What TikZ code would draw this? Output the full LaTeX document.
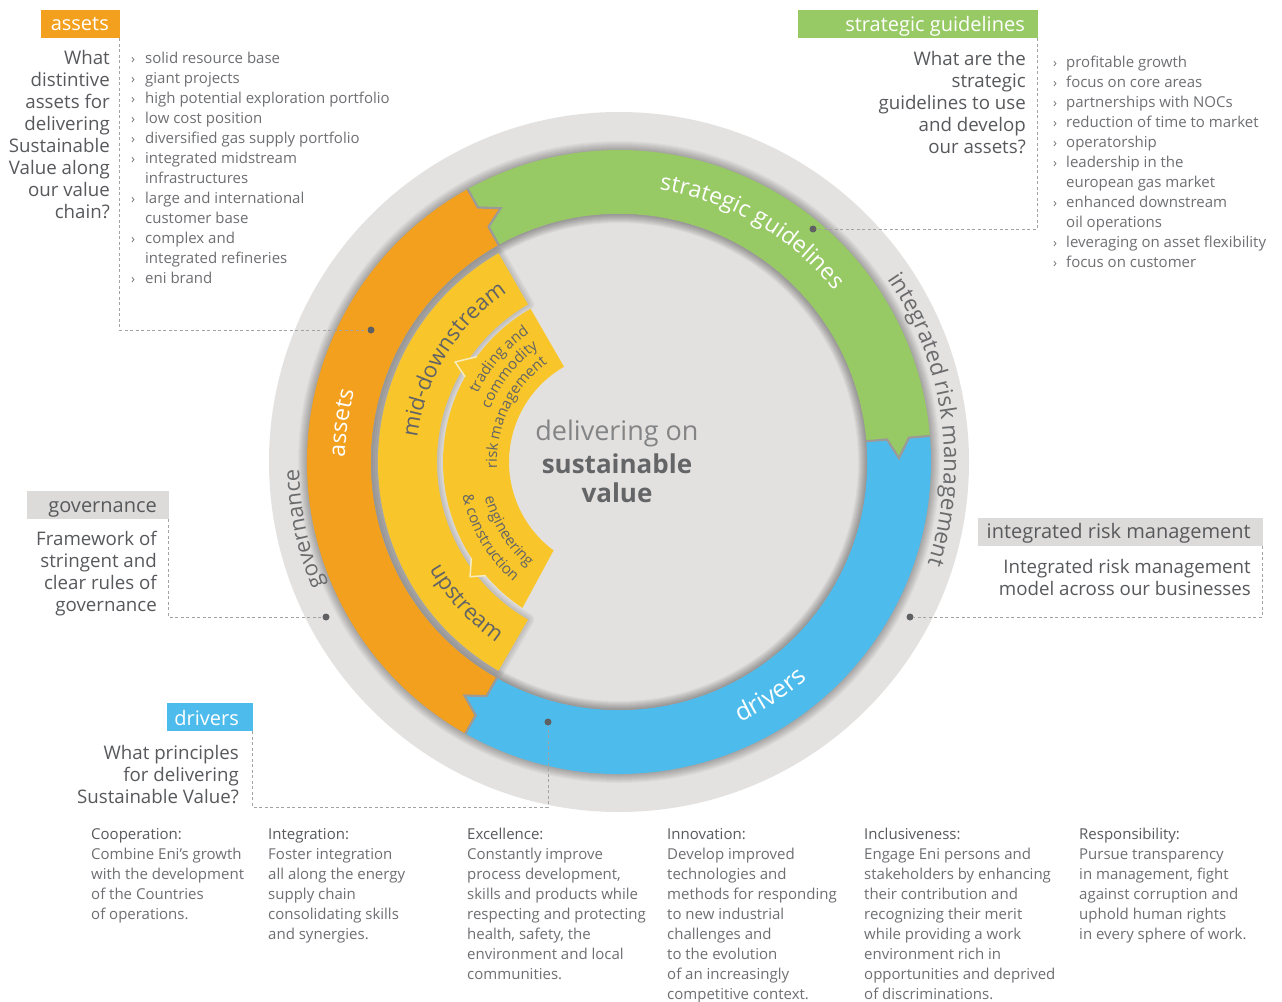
\documentclass[tikz,border=0pt]{standalone}
\usepackage{fontspec}
\setmainfont{Open Sans}
\usetikzlibrary{decorations.text}
\definecolor{cGrey}{HTML}{E4E2E1}
\definecolor{cDisk}{HTML}{E3E1E0}
\definecolor{cOrange}{HTML}{F2A01D}
\definecolor{cGreen}{HTML}{97C965}
\definecolor{cBlue}{HTML}{4DBCEC}
\definecolor{cYellow}{HTML}{F8C62B}
\definecolor{cDark}{HTML}{58595C}
\definecolor{cBody}{HTML}{6E6F72}
\definecolor{cDash}{HTML}{A3A3A3}
\definecolor{cDot}{HTML}{5F6062}
\definecolor{cBoxGrey}{HTML}{DCDBDA}
\definecolor{cSeg}{HTML}{9C9A99}
\definecolor{cPale}{HTML}{F6ECC0}
\definecolor{cRingText}{HTML}{6A6B6D}
\definecolor{cYText}{HTML}{626366}
\definecolor{cCLight}{HTML}{838486}
\definecolor{cCBold}{HTML}{646567}
\tikzset{
 qtext/.style={font=\fontsize{18.7}{22}\selectfont, text=cDark, anchor=base east, inner sep=0},
 btext/.style={font=\fontsize{15}{20}\selectfont, text=cBody, anchor=base west, inner sep=0},
 ttext/.style={font=\fontsize{15}{20}\selectfont, text=cDark, anchor=base west, inner sep=0},
 bul/.style={font=\fontsize{13}{20}\selectfont, text=cBody, anchor=base, inner sep=0},
 lbox/.style={rectangle, minimum height=28, inner sep=0, anchor=north west},
 ltitle/.style={font=\fontsize{20}{22}\selectfont, anchor=base east, inner sep=0},
 dashline/.style={draw=cDash, line width=1, dash pattern=on 3 off 2.5},
 ldot/.style={circle, fill=cDot, minimum size=7, inner sep=0},
 segline/.style={draw=cSeg, line width=2.2, line join=miter},
 seg/.style 2 args={insert path={(#1:248) -- (#1:269) -- ({#1-4}:280) -- (#1:291) -- (#1:312)
   arc[start angle=#1, end angle=#2, radius=312] -- (#2:291) -- ({#2-4}:280) -- (#2:269) -- (#2:248)
   arc[start angle=#2, end angle=#1, radius=248] -- cycle}},
 bnd/.style={insert path={(#1:248) -- (#1:269) -- ({#1-4}:280) -- (#1:291) -- (#1:312)}},
 midband/.style={insert path={(120:182) -- (120:241) arc[start angle=120,end angle=240,radius=241]
   -- (240:182) arc[start angle=240,end angle=120,radius=182] -- cycle}},
 innerband/.style={insert path={(120:110) -- (120:177) arc[start angle=120,end angle=143.5,radius=177]
   -- (148.6:192) -- (151:176) arc[start angle=151,end angle=213,radius=176]
   -- (217.6:188) -- (220.5:175) arc[start angle=220.5,end angle=236.5,radius=175]
   -- (233.5:110) arc[start angle=233.5,end angle=120,radius=110] -- cycle}},
}
\begin{document}
\begin{tikzpicture}[x=1pt,y=1pt]
\useasboundingbox (0,0) rectangle (1282,-1001);
\fill[white] (0,0) rectangle (1282,-1001);

% ---------------- the wheel ----------------
\begin{scope}[shift={(619,-462)}]
 \fill[cGrey] (0,0) circle (350);
 \foreach \ii in {1,...,10} \fill[black,opacity=0.03] (0,0) circle ({311+\ii});
 \fill[cOrange, seg={119}{240.5}];
 \fill[cGreen, seg={4.8}{119}];
 \fill[cBlue, seg={-119.5}{4.8}];
 \foreach \bb in {119,4.8,-119.5} \draw[segline, bnd=\bb];
 \fill[cDisk] (0,0) circle (248);
 \foreach \ii in {1,...,9} \fill[black,opacity=0.038,even odd rule] (0,0) circle (248) circle ({248-\ii});
 % yellow bands
 \foreach \ww in {12,8,4} \draw[black,opacity=0.05,line width=\ww,line join=round,midband];
 \fill[cYellow, midband];
 \fill[cYellow, innerband];
 \draw[cPale, line width=1.5, line join=round] (143.5:177) -- (148.6:192) -- (151:176);
 \draw[cPale, line width=1.5, line join=round] (213:176) -- (217.6:188) -- (220.5:175);

 % ring texts
 \path[decorate, decoration={text along path, text align=center,
   text={|\fontsize{23}{23}\selectfont\color{white}|strategic guidelines}}]
   (100:275) arc[start angle=100, end angle=20, radius=275];
 \path[decorate, decoration={text along path, text align=center,
   text={|\fontsize{25}{25}\selectfont\color{white}|drivers}}]
   (-97:287) arc[start angle=-97, end angle=-17, radius=287];
 \path[decorate, decoration={text along path, text align=center,
   text={|\fontsize{23}{23}\selectfont\color{white}|assets}}]
   (212:274) arc[start angle=212, end angle=132, radius=274];
 \path[decorate, decoration={text along path, text align=center,
   text={|\fontsize{22}{22}\selectfont\color{cRingText}|governance}}]
   (232:320) arc[start angle=232, end angle=152, radius=320];
 \path[decorate, decoration={text along path, text align=center,
   text={|\fontsize{22.5}{22.5}\selectfont\color{cRingText}|integrated risk management}}]
   (68:325) arc[start angle=68, end angle=-52, radius=325];
 \path[decorate, decoration={text along path, text align=center,
   text={|\fontsize{22}{22}\selectfont\color{cYText}|mid-downstream}}]
   (208.3:203) arc[start angle=208.3, end angle=88.3, radius=203];
 \path[decorate, decoration={text along path, text align=center,
   text={|\fontsize{22}{22}\selectfont\color{cYText}|upstream}}]
   (182.7:218) arc[start angle=182.7, end angle=262.7, radius=218];
 \path[decorate, decoration={text along path, text align=center,
   text={|\fontsize{15}{15}\selectfont\color{cYText}|trading and}}]
   (189.5:157) arc[start angle=189.5, end angle=89.5, radius=157];
 \path[decorate, decoration={text along path, text align=center,
   text={|\fontsize{15}{15}\selectfont\color{cYText}|commodity}}]
   (201.5:139.5) arc[start angle=201.5, end angle=81.5, radius=139.5];
 \path[decorate, decoration={text along path, text align=center,
   text={|\fontsize{15}{15}\selectfont\color{cYText}|risk management}}]
   (214.5:122) arc[start angle=214.5, end angle=94.5, radius=122];
 \path[decorate, decoration={text along path, text align=center,
   text={|\fontsize{15}{15}\selectfont\color{cYText}|engineering}}]
   (152:139) arc[start angle=152, end angle=272, radius=139];
 \path[decorate, decoration={text along path, text align=center,
   text={|\fontsize{15}{15}\selectfont\color{cYText}|{\&} construction}}]
   (150.3:160) arc[start angle=150.3, end angle=270.3, radius=160];
\end{scope}

% centre text
\node[font=\fontsize{27}{27}\selectfont, text=cCLight, anchor=base, inner sep=0] (c1) at (617,-440) {delivering on};
\node[font=\bfseries\fontsize{26}{26}\selectfont, text=cCBold, anchor=base, inner sep=0] (c2) at (617,-473) {sustainable};
\node[font=\bfseries\fontsize{26}{26}\selectfont, text=cCBold, anchor=base, inner sep=0] (c3) at (617,-502) {value};

% ---------------- dots ----------------
\node[ldot] (adot) at (371,-330) {};
\node[ldot] (sdot) at (813,-229) {};
\node[ldot] (gdot) at (326,-617) {};
\node[ldot] (idot) at (910,-617) {};
\node[ldot] (ddot) at (548,-722) {};

% ---------------- label boxes ----------------
\node[lbox, fill=cOrange, minimum width=79] (abox) at (41,-10) {};
\node[ltitle, text=white] (atitle) at (109,-30) {assets};
\node[lbox, fill=cGreen, minimum width=240] (sbox) at (798,-10) {};
\node[ltitle, text=white] (stitle) at (1025,-31) {strategic guidelines};
\node[lbox, fill=cBoxGrey, minimum width=142] (gbox) at (27,-491) {};
\node[ltitle, text=cDark] (gtitle) at (157,-512) {governance};
\node[lbox, fill=cBoxGrey, minimum width=285] (ibox) at (978,-518) {};
\node[ltitle, text=cDark] (ititle) at (1251,-538) {integrated risk management};
\node[lbox, fill=cBlue, minimum width=86] (dbox) at (167,-703) {};
\node[ltitle, text=white] (dtitle) at (239,-725) {drivers};

% ---------------- leaders ----------------
\draw[dashline] ([xshift=-1pt]abox.south east) |- (adot);
\draw[dashline] ([xshift=-1pt]sbox.south east) |- (sdot);
\draw[dashline] ([xshift=-1pt]gbox.south east) |- (gdot);
\draw[dashline] ([xshift=-1pt]ibox.south east) |- (idot);
\coordinate (dturn) at (548,-807);
\draw[dashline] ([xshift=-1pt]dbox.south east) |- (dturn) -- (ddot);

% ---------------- questions ----------------
\foreach \tx [count=\ii from 0] in {What, distintive, assets for, delivering, Sustainable, Value along, our value, chain?}
  \node[qtext] (qa\ii) at (110,{-64-22*\ii}) {\tx};
\foreach \tx [count=\ii from 0] in {What are the, strategic, guidelines to use, and develop, our assets?}
  \node[qtext] (qs\ii) at (1026,{-65-22*\ii}) {\tx};
\foreach \tx [count=\ii from 0] in {Framework of, stringent and, clear rules of, governance}
  \node[qtext] (qg\ii) at (157,{-545-22*\ii}) {\tx};
\foreach \tx [count=\ii from 0] in {Integrated risk management, model across our businesses}
  \node[qtext] (qi\ii) at (1251,{-573-22*\ii}) {\tx};
\foreach \tx [count=\ii from 0] in {What principles, for delivering, Sustainable Value?}
  \node[qtext] (qd\ii) at (239,{-759-22*\ii}) {\tx};

% ---------------- bullet lists ----------------
\foreach \tx/\bu [count=\ii from 0] in {solid resource base/1, giant projects/1, high potential exploration portfolio/1,
  low cost position/1, diversified gas supply portfolio/1, integrated midstream/1, infrastructures/0,
  large and international/1, customer base/0, complex and/1, integrated refineries/0, eni brand/1}{
  \node[btext] (la\ii) at (145,{-63-20*\ii}) {\tx};
  \ifnum\bu=1 \node[bul] (lb\ii) at (133,{-63-20*\ii}) {›};\fi
}
\foreach \tx/\bu [count=\ii from 0] in {profitable growth/1, focus on core areas/1, partnerships with NOCs/1,
  reduction of time to market/1, operatorship/1, leadership in the/1, european gas market/0,
  enhanced downstream/1, oil operations/0, leveraging on asset flexibility/1, focus on customer/1}{
  \node[btext] (ra\ii) at (1066,{-67-20*\ii}) {\tx};
  \ifnum\bu=1 \node[bul] (rb\ii) at (1055,{-67-20*\ii}) {›};\fi
}

% ---------------- bottom columns ----------------
\node[ttext] (h1) at (91,-839) {Cooperation:};
\foreach \tx [count=\ii from 0] in {Combine Eni’s growth, with the development, of the Countries, of operations.}
  \node[btext] (p1\ii) at (91,{-859-20*\ii}) {\tx};
\node[ttext] (h2) at (268,-839) {Integration:};
\foreach \tx [count=\ii from 0] in {Foster integration, all along the energy, supply chain, consolidating skills, and synergies.}
  \node[btext] (p2\ii) at (268,{-859-20*\ii}) {\tx};
\node[ttext] (h3) at (467,-839) {Excellence:};
\foreach \tx [count=\ii from 0] in {Constantly improve, {process development,}, skills and products while, respecting and protecting, {health, safety, the}, environment and local, communities.}
  \node[btext] (p3\ii) at (467,{-859-20*\ii}) {\tx};
\node[ttext] (h4) at (667,-839) {Innovation:};
\foreach \tx [count=\ii from 0] in {Develop improved, technologies and, methods for responding, to new industrial, challenges and, to the evolution, of an increasingly, competitive context.}
  \node[btext] (p4\ii) at (667,{-859-20*\ii}) {\tx};
\node[ttext] (h5) at (864,-839) {Inclusiveness:};
\foreach \tx [count=\ii from 0] in {Engage Eni persons and, stakeholders by enhancing, their contribution and, recognizing their merit, while providing a work, environment rich in, opportunities and deprived, of discriminations.}
  \node[btext] (p5\ii) at (864,{-859-20*\ii}) {\tx};
\node[ttext] (h6) at (1079,-839) {Responsibility:};
\foreach \tx [count=\ii from 0] in {Pursue transparency, {in management, fight}, against corruption and, uphold human rights, in every sphere of work.}
  \node[btext] (p6\ii) at (1079,{-859-20*\ii}) {\tx};
\end{tikzpicture}
\end{document}
